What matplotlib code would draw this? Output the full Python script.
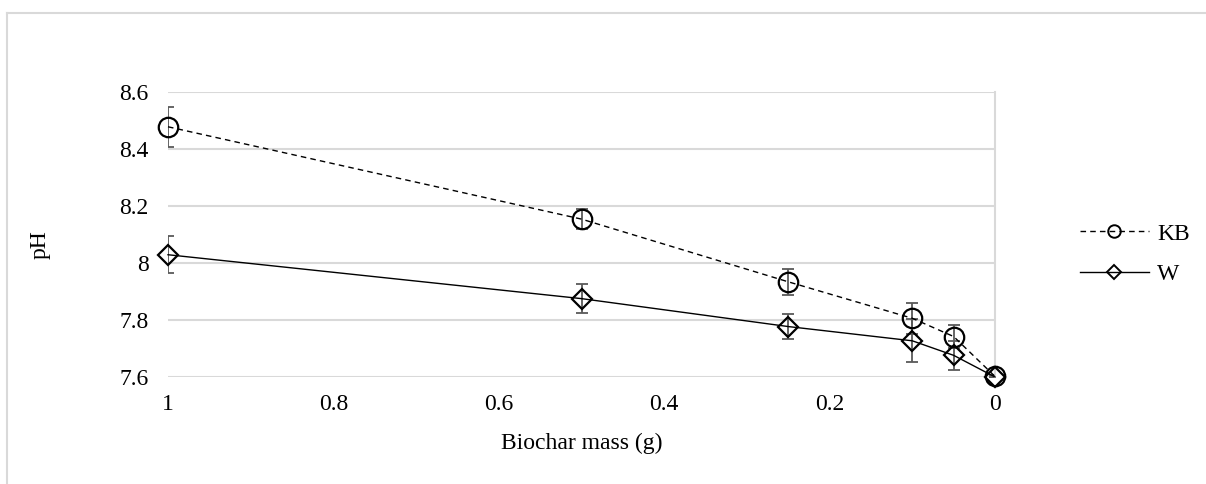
import numpy as np
import matplotlib
matplotlib.use('Agg')
import matplotlib.pyplot as plt
from matplotlib.lines import Line2D

plt.rcParams['font.family'] = ['Liberation Serif', 'DejaVu Serif']

# 数据
mass = [1, 0.5, 0.25, 0.1, 0.05, 0]
kb_ph = [8.478, 8.154, 7.934, 7.806, 7.742, 7.602]
kb_err = [0.07, 0.035, 0.045, 0.055, 0.04, 0.005]
w_ph = [8.029, 7.875, 7.777, 7.727, 7.676, 7.600]
w_err = [0.065, 0.05, 0.045, 0.075, 0.05, 0.005]
y_ticks = [7.6, 7.8, 8.0, 8.2, 8.4, 8.6]
y_labels = ['7.6', '7.8', '8', '8.2', '8.4', '8.6']
x_ticks = [1, 0.8, 0.6, 0.4, 0.2, 0]
x_labels = ['1', '0.8', '0.6', '0.4', '0.2', '0']

fs = 17

fig = plt.figure(figsize=(12.06, 4.84), dpi=100)
ax = fig.add_axes([168 / 1206, 1 - 377 / 484, (995 - 168) / 1206, (377 - 92) / 484])

# 外框（只有上边和左边可见）
fig.add_artist(Line2D([7 / 1206, 7 / 1206], [0, 1 - 13 / 484], color='#d9d9d9', lw=1.5))
fig.add_artist(Line2D([7 / 1206, 1205 / 1206], [1 - 13 / 484, 1 - 13 / 484], color='#d9d9d9', lw=1.5))

# 误差线
ax.errorbar(mass, kb_ph, yerr=kb_err, fmt='none', ecolor='#595959', elinewidth=1.3, capsize=4, capthick=1.3)
ax.errorbar(mass, w_ph, yerr=w_err, fmt='none', ecolor='#595959', elinewidth=1.3, capsize=4, capthick=1.3)

# 折线和标记
ax.plot(mass, kb_ph, color='black', lw=1, ls=(0, (4, 3)), clip_on=False, zorder=3)
ax.plot(mass, w_ph, color='black', lw=1, clip_on=False, zorder=3)
ax.plot(mass, kb_ph, ls='none', marker='o', ms=14, mfc='none', mec='black', mew=1.6, clip_on=False, zorder=4)
ax.plot(mass, w_ph, ls='none', marker='D', ms=10, mfc='none', mec='black', mew=1.6, clip_on=False, zorder=4)

ax.set_xlim(1, 0)
ax.set_ylim(7.6, 8.6)
ax.set_xticks(x_ticks)
ax.set_xticklabels(x_labels)
ax.set_yticks(y_ticks)
ax.set_yticklabels(y_labels)
ax.tick_params(length=0, labelsize=fs)
ax.tick_params(axis='y', pad=14)
ax.tick_params(axis='x', pad=12)
ax.grid(axis='y', color='#d9d9d9', lw=1.5)
ax.set_axisbelow(True)
for s in ['top', 'left', 'bottom']:
    ax.spines[s].set_visible(False)
ax.spines['right'].set_color('#d9d9d9')
ax.spines['right'].set_linewidth(1.5)

ax.set_xlabel('Biochar mass (g)', fontsize=fs, va='center')
ax.xaxis.set_label_coords((582 - 168) / 827, (377 - 443) / 285)
ax.set_ylabel('pH', fontsize=fs, va='center')
ax.yaxis.set_label_coords((40 - 168) / 827, (377 - 245) / 285)

handles = [
    Line2D([], [], color='black', lw=1, ls=(0, (4, 3)), marker='o', ms=9, mfc='none', mec='black', mew=1.4),
    Line2D([], [], color='black', lw=1, marker='D', ms=7, mfc='none', mec='black', mew=1.4),
]
fig.legend(handles, ['KB', 'W'], loc='center left', bbox_to_anchor=(1059 / 1206, 1 - 254 / 484),
           frameon=False, fontsize=fs, handlelength=2.9, handletextpad=0.35, labelspacing=0.8)

fig.savefig('out.png', dpi=100)
